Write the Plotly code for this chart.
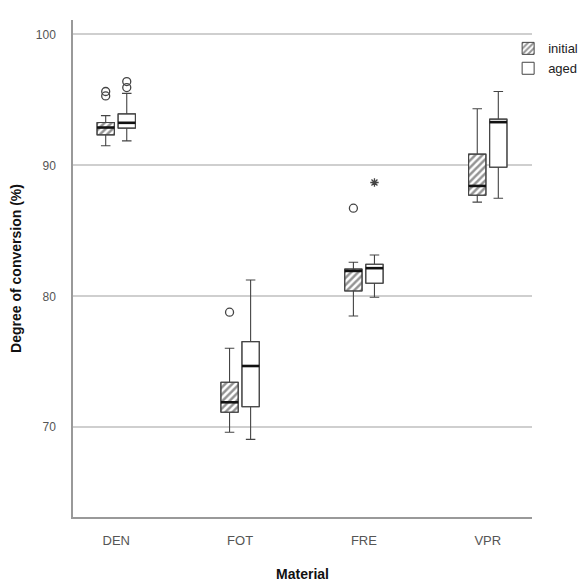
import plotly.graph_objects as go

categories = ["DEN", "FOT", "FRE", "VPR"]

# initial
init_q1 = [92.33, 71.15, 80.41, 87.72]
init_median = [92.89, 71.91, 81.94, 88.43]
init_q3 = [93.27, 73.44, 82.09, 90.86]
init_low = [91.50, 69.62, 78.50, 87.19]
init_high = [93.80, 76.04, 82.60, 94.32]

# aged
aged_q1 = [92.84, 71.57, 81.00, 89.86]
aged_median = [93.25, 74.68, 82.15, 93.30]
aged_q3 = [93.93, 76.54, 82.45, 93.53]
aged_low = [91.87, 69.08, 79.93, 87.49]
aged_high = [95.50, 81.25, 83.16, 95.64]

# outliers (category index, value)
init_out_cat = [0, 0, 1, 2]
init_out_val = [95.64, 95.30, 78.79, 86.73]
aged_out_cat = [0, 0]
aged_out_val = [96.40, 95.94]
aged_extreme_cat = [2]
aged_extreme_val = [88.69]

OFF = 0.085
W = 0.14
idx = list(range(len(categories)))
x_init = [i - OFF for i in idx]
x_aged = [i + OFF for i in idx]

LINE = "#444444"
fig = go.Figure()

# hatched fill for initial
fig.add_trace(go.Bar(
    x=x_init, y=[h - l for h, l in zip(init_q3, init_q1)], base=init_q1, width=W,
    name="initial", showlegend=True,
    marker=dict(color="white", line=dict(color=LINE, width=1),
                pattern=dict(shape="/", fgcolor="#2a2a2a", bgcolor="white", size=5, solidity=0.5)),
    hoverinfo="skip"))
fig.add_trace(go.Bar(
    x=x_aged, y=[h - l for h, l in zip(aged_q3, aged_q1)], base=aged_q1, width=W,
    name="aged", showlegend=True,
    marker=dict(color="white", line=dict(color=LINE, width=1)),
    hoverinfo="skip"))

for xs, q1, med, q3, lo, hi in [(x_init, init_q1, init_median, init_q3, init_low, init_high),
                                (x_aged, aged_q1, aged_median, aged_q3, aged_low, aged_high)]:
    fig.add_trace(go.Box(
        x=xs, q1=q1, median=med, q3=q3,
        lowerfence=lo, upperfence=hi, width=W,
        fillcolor="rgba(0,0,0,0)", line=dict(color=LINE, width=1.1),
        whiskerwidth=0.55, boxpoints=False, showlegend=False, hoverinfo="skip"))
    # thick median lines
    mx, my = [], []
    for x, m in zip(xs, med):
        mx += [x - W / 2, x + W / 2, None]
        my += [m, m, None]
    fig.add_trace(go.Scatter(x=mx, y=my, mode="lines", line=dict(color="#111111", width=2.6),
                             showlegend=False, hoverinfo="skip"))

fig.add_trace(go.Scatter(
    x=[c - OFF for c in init_out_cat], y=init_out_val, mode="markers",
    marker=dict(symbol="circle-open", size=8, color=LINE, line=dict(width=1.3)),
    showlegend=False))
fig.add_trace(go.Scatter(
    x=[c + OFF for c in aged_out_cat], y=aged_out_val, mode="markers",
    marker=dict(symbol="circle-open", size=8, color=LINE, line=dict(width=1.3)),
    showlegend=False))
fig.add_trace(go.Scatter(
    x=[c + OFF for c in aged_extreme_cat], y=aged_extreme_val, mode="markers",
    marker=dict(symbol="asterisk-open", size=7, color=LINE, line=dict(width=1.3)),
    showlegend=False))

fig.update_layout(
    width=587, height=587,
    margin=dict(l=65, r=63, t=12, b=78, autoexpand=False),
    plot_bgcolor="white", paper_bgcolor="white",
    barmode="overlay", boxmode="overlay",
    font=dict(family="Arial, Liberation Sans, sans-serif", size=12, color="#555555"),
    legend=dict(x=0.948, y=0.973, xanchor="left", yanchor="top",
                font=dict(size=13, color="#222222"), bgcolor="rgba(0,0,0,0)",
                tracegroupgap=0, itemwidth=30),
    xaxis=dict(range=[-0.349, 3.357], tickmode="array", tickvals=idx, ticktext=categories,
               showgrid=False, zeroline=False, showline=True, linecolor="#999999", linewidth=1.5,
               ticks="outside", ticklen=11, tickcolor="rgba(0,0,0,0)",
               tickfont=dict(size=13, color="#555555"),
               title=dict(text="<b>Material</b>", font=dict(size=14, color="#111111"), standoff=22)),
    yaxis=dict(range=[63.15, 101.1], tickvals=[70, 80, 90, 100],
               showgrid=True, gridcolor="#cfcfcf", gridwidth=1.5, zeroline=False,
               showline=True, linecolor="#999999", linewidth=1.5,
               ticks="outside", ticklen=13, tickcolor="rgba(0,0,0,0)",
               tickfont=dict(size=12, color="#555555"),
               title=dict(text="<b>Degree of conversion (%)</b>", font=dict(size=14, color="#111111"), standoff=13)),
)

fig.write_html("out.html")
